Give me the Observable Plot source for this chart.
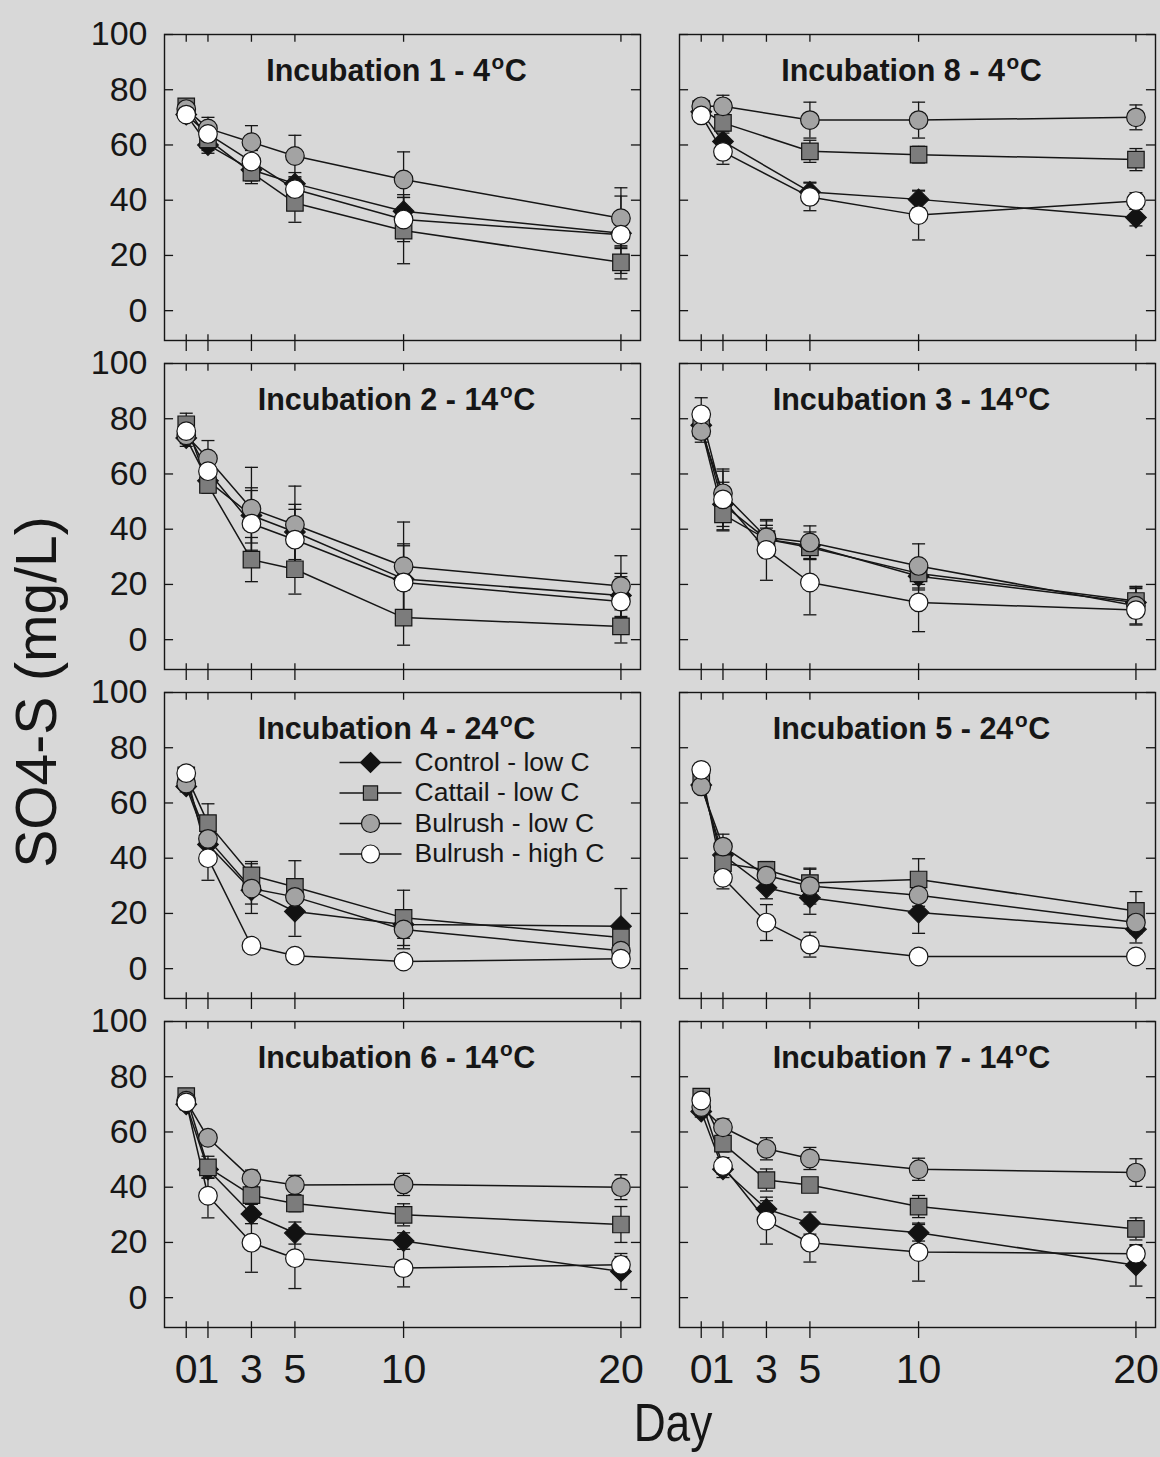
<!DOCTYPE html>
<html>
<head>
<meta charset="utf-8">
<script src="https://cdn.jsdelivr.net/npm/d3@7"></script>
<script src="https://cdn.jsdelivr.net/npm/@observablehq/plot@0.6"></script>
<style>
  html, body { margin: 0; padding: 0; background: #d8d8d8; }
  #chart { width: 1160px; height: 1457px; }
</style>
</head>
<body>
<div id="chart"></div>
<script>
// ---------- data ----------
const days = [0, 1, 3, 5, 10, 20];
const yTicks = [0, 20, 40, 60, 80, 100];
const series = ["Control - low C", "Cattail - low C", "Bulrush - low C", "Bulrush - high C"];
const seriesSymbols = ["diamond2", "square", "circle", "circle"];
const seriesFills = ["#121212", "#7c7c7c", "#a3a3a3", "#ffffff"];

// panel layout: title, column, row
const panelTitles = [
  "Incubation 1 - 4°C", "Incubation 8 - 4°C",
  "Incubation 2 - 14°C", "Incubation 3 - 14°C",
  "Incubation 4 - 24°C", "Incubation 5 - 24°C",
  "Incubation 6 - 14°C", "Incubation 7 - 14°C"
];
const panelCols = ["L", "R", "L", "R", "L", "R", "L", "R"];
const panelRows = [0, 0, 1, 1, 2, 2, 3, 3];

// means per series (Control, Cattail, Bulrush low, Bulrush high) at days 0,1,3,5,10,20
const inc1Means = [
  [71, 60, 51, 46, 36, 28],
  [74, 62, 50, 39, 29, 17.5],
  [73, 66, 61, 56, 47.5, 33.5],
  [71, 64, 54, 44, 33, 27.5]
];
const inc1Errors = [
  [2, 3, 4, 4, 6, 5],
  [2, 4, 4, 7, 12, 6],
  [2, 4, 6, 7.5, 10, 11],
  [2, 3, 4, 4, 8, 14]
];
const inc8Means = [
  [72, 61.3, null, 43, 40.3, 33.7],
  [73, 68, null, 57.7, 56.5, 54.7],
  [74, 74, null, 69, 69, 70],
  [70.7, 57.5, null, 41.2, 34.6, 39.7]
];
const inc8Errors = [
  [2, 3, null, 3.5, 3, 3],
  [2, 3, null, 4, 3, 4],
  [2, 4, null, 6.5, 6.5, 4.5],
  [2, 4.5, null, 5, 9, 3]
];
const inc2Means = [
  [73, 57.5, 45, 39, 22, 16],
  [78, 56, 29, 25.5, 8, 4.8],
  [74, 65.6, 47.4, 41.6, 26.6, 19.4],
  [75.5, 61, 42, 36.2, 20.7, 13.8]
];
const inc2Errors = [
  [3, 4, 10, 10, 12, 8],
  [4, 3, 8, 9, 10, 6],
  [3, 6.5, 15, 14, 16, 11],
  [3, 5, 12, 11, 14, 9]
];
const inc3Means = [
  [77.6, 49, 36.4, 34, 23, 13.5],
  [76.7, 45.4, 36.4, 33.4, 24, 14],
  [75.5, 53, 37, 35.2, 26.7, 12.3],
  [81.6, 50.8, 32.5, 20.7, 13.5, 10.7]
];
const inc3Errors = [
  [4, 8, 5, 5, 5, 5],
  [4, 6, 4, 4, 4, 5],
  [4, 8, 6, 6, 8, 7],
  [6, 11, 11, 11.7, 10.6, 5]
];
const inc4Means = [
  [66, 45, 28.4, 20.7, 16, 15.4],
  [70, 52.7, 33.8, 29.6, 18.4, 11.3],
  [67, 47, 29, 26, 14.2, 6.5],
  [70.8, 40, 8.3, 4.7, 2.6, 3.6]
];
const inc4Errors = [
  [2, 4, 5, 9, 5, 13.6],
  [3, 7, 5, 9.5, 10, 4],
  [2, 5, 9, 6, 7, 3],
  [2, 8, 2, 2, 2, 2]
];
const inc5Means = [
  [66.5, 41.2, 29.3, 25.7, 20.3, 14.3],
  [68.7, 38.2, 35.8, 31, 32.3, 20.9],
  [66, 44.2, 33.7, 29.9, 26.6, 16.7],
  [72, 32.9, 16.7, 8.7, 4.4, 4.4]
];
const inc5Errors = [
  [2, 3, 4, 6, 7.5, 5],
  [2, 3, 3, 5, 7.5, 7],
  [2, 4.5, 5, 6.5, 4, 4],
  [2, 4, 6.5, 4.5, 2, 2]
];
const inc6Means = [
  [70, 46.4, 30.3, 23.4, 20.5, 9.5],
  [73, 47.2, 37.1, 34.1, 30, 26.5],
  [71.3, 57.9, 43.2, 40.8, 41, 40],
  [70.7, 36.9, 19.9, 14.3, 10.7, 11.9]
];
const inc6Errors = [
  [2, 3, 3.5, 4, 3, 6.5],
  [2, 4, 3, 3, 4, 6.5],
  [2, 2, 3, 3.5, 4, 4.5],
  [2, 8, 10.7, 11, 6.8, 3]
];
const inc7Means = [
  [67.4, 46.5, 32.1, 27, 23.5, 11.7],
  [72.8, 55.8, 42.6, 40.8, 33, 24.9],
  [69, 61.7, 53.9, 50.4, 46.5, 45.3],
  [71.4, 47.7, 27.9, 19.9, 16.5, 15.9]
];
const inc7Errors = [
  [2, 3, 3, 4, 3, 7.5],
  [2, 3, 4, 2, 4, 4],
  [2, 3, 4, 4, 4, 5],
  [2, 3, 8.5, 7, 10.5, 3]
];

const panelMeans = [inc1Means, inc8Means, inc2Means, inc3Means, inc4Means, inc5Means, inc6Means, inc7Means];
const panelErrors = [inc1Errors, inc8Errors, inc2Errors, inc3Errors, inc4Errors, inc5Errors, inc6Errors, inc7Errors];

// ---------- table ----------
const rows = [];
panelTitles.forEach((title, pi) => {
  series.forEach((s, si) => {
    days.forEach((d, di) => {
      const v = panelMeans[pi][si][di];
      if (v == null) return;
      rows.push({panel: title, col: panelCols[pi], row: panelRows[pi], series: s, day: d, value: v, err: panelErrors[pi][si][di]});
    });
  });
});
const panels = panelTitles.map((t, i) => ({title: t, col: panelCols[i], row: panelRows[i]}));

// ---------- layout ----------
const W = 1160, H = 1457;
const mL = 164, mR = 5, mT = 33, mB = 130;
const padX = 0.076, padY = 0.07;
const frameW = (W - mL - mR) / (2 - padX) * (1 - padX);
const frameH = (H - mT - mB) / (4 - padY) * (1 - padY);

const ink = "#161616";
const sans = "'Liberation Sans', Arial, Helvetica, sans-serif";

const capSymbol = {draw(ctx, size) { const r = Math.sqrt(size / Math.PI); ctx.moveTo(-r, 0); ctx.lineTo(r, 0); }};
const legendLine = {draw(ctx) { ctx.moveTo(-31, 0); ctx.lineTo(31, 0); }};

const legendMarks = series.flatMap((s, i) => {
  const item = [{series: s, col: "L", row: 2}];
  const dy = 70 + 30.5 * i;
  return [
    Plot.dot(item, {fx: "col", fy: "row", frameAnchor: "top-left", dx: 206, dy, symbol: legendLine, fill: "none", stroke: ink, strokeWidth: 1.5}),
    Plot.dot(item, {fx: "col", fy: "row", frameAnchor: "top-left", dx: 206, dy, symbol: "series", fill: "series", stroke: ink, strokeWidth: 1.2, r: i === 1 ? 8 : 9}),
    Plot.text(item, {fx: "col", fy: "row", frameAnchor: "top-left", dx: 250, dy, text: "series", textAnchor: "start", lineAnchor: "middle", fontSize: 26.5, fontFamily: sans, fill: ink})
  ];
});

const chart = Plot.plot({
  width: W,
  height: H,
  marginLeft: mL,
  marginRight: mR,
  marginTop: mT,
  marginBottom: mB,
  style: {background: "#d8d8d8", color: ink, fontFamily: sans},
  fx: {domain: ["L", "R"], padding: padX, axis: null},
  fy: {domain: [0, 1, 2, 3], padding: padY, axis: null},
  x: {domain: [-1, 20.9]},
  y: {domain: [-10.8, 100]},
  symbol: {domain: series, range: seriesSymbols},
  color: {domain: series, range: seriesFills},
  marks: [
    Plot.frame({stroke: ink, strokeWidth: 1.4}),
    // inward y ticks left & right
    Plot.tickY(yTicks, {y: d => d, insetRight: frameW - 9, stroke: ink, strokeWidth: 1.3}),
    Plot.tickY(yTicks, {y: d => d, insetLeft: frameW - 9, stroke: ink, strokeWidth: 1.3}),
    // inward x ticks on top, outward on bottom
    Plot.tickX(days, {x: d => d, insetBottom: frameH - 8, stroke: ink, strokeWidth: 1.3}),
    Plot.tickX(days, {x: d => d, insetTop: frameH - 6, insetBottom: -11, stroke: ink, strokeWidth: 1.3}),
    Plot.axisY({ticks: yTicks, tickSize: 0, tickPadding: 17, fontSize: 34, label: null, fontFamily: sans}),
    Plot.axisX({ticks: days, tickSize: 0, tickPadding: 26, fontSize: 41, label: null, fontFamily: sans, ariaLabel: "x-axis tick label"}),
    // data
    Plot.line(rows, {fx: "col", fy: "row", x: "day", y: "value", z: "series", stroke: ink, strokeWidth: 1.5}),
    Plot.ruleX(rows, {fx: "col", fy: "row", x: "day", y1: d => d.value - d.err, y2: d => d.value + d.err, stroke: ink, strokeWidth: 1.3}),
    Plot.dot(rows, {fx: "col", fy: "row", x: "day", y: d => d.value + d.err, symbol: capSymbol, r: 6.5, fill: "none", stroke: ink, strokeWidth: 1.3}),
    Plot.dot(rows, {fx: "col", fy: "row", x: "day", y: d => d.value - d.err, symbol: capSymbol, r: 6.5, fill: "none", stroke: ink, strokeWidth: 1.3}),
    Plot.dot(rows, {fx: "col", fy: "row", x: "day", y: "value", symbol: "series", fill: "series", stroke: ink, strokeWidth: 1.2, r: 9.3}),
    // titles
    Plot.text(panels, {fx: "col", fy: "row", frameAnchor: "top", dy: 37, dx: -6, text: "title", fontSize: 30.5, fontWeight: "bold", fontFamily: sans, lineAnchor: "middle", fill: ink}),
    ...legendMarks
  ]
});

document.getElementById("chart").appendChild(chart);

const svgNode = chart.tagName.toLowerCase() === "svg" ? chart : chart.querySelector("svg");
const svg = d3.select(svgNode);

// condensed x tick labels (narrow face as in the original)
svg.selectAll("g[aria-label='x-axis tick label'] text").each(function () {
  const tr = this.getAttribute("transform") || "";
  this.setAttribute("transform", tr + " scale(0.7,1)");
});

// superscript "o" for the degree sign in titles
svg.selectAll("text").each(function () {
  const t = d3.select(this);
  const txt = this.textContent;
  if (/°C$/.test(txt) && this.childElementCount === 0) {
    const base = txt.replace(/°C$/, "");
    t.text(null);
    t.append("tspan").text(base);
    t.append("tspan").attr("dy", "-0.6em").attr("font-size", "0.68em").attr("dx", "0.08em").text("o");
    t.append("tspan").attr("dy", "0.408em").attr("dx", "0.02em").text("C");
  }
});

// axis titles
svg.append("text")
  .attr("transform", "translate(56,692) rotate(-90)")
  .attr("text-anchor", "middle")
  .attr("font-family", sans)
  .attr("font-size", 57)
  .attr("fill", ink)
  .text("SO4-S (mg/L)");
svg.append("text")
  .attr("transform", "translate(673,1441) scale(0.82,1)")
  .attr("text-anchor", "middle")
  .attr("font-family", sans)
  .attr("font-size", 54)
  .attr("fill", ink)
  .text("Day");
</script>
</body>
</html>
